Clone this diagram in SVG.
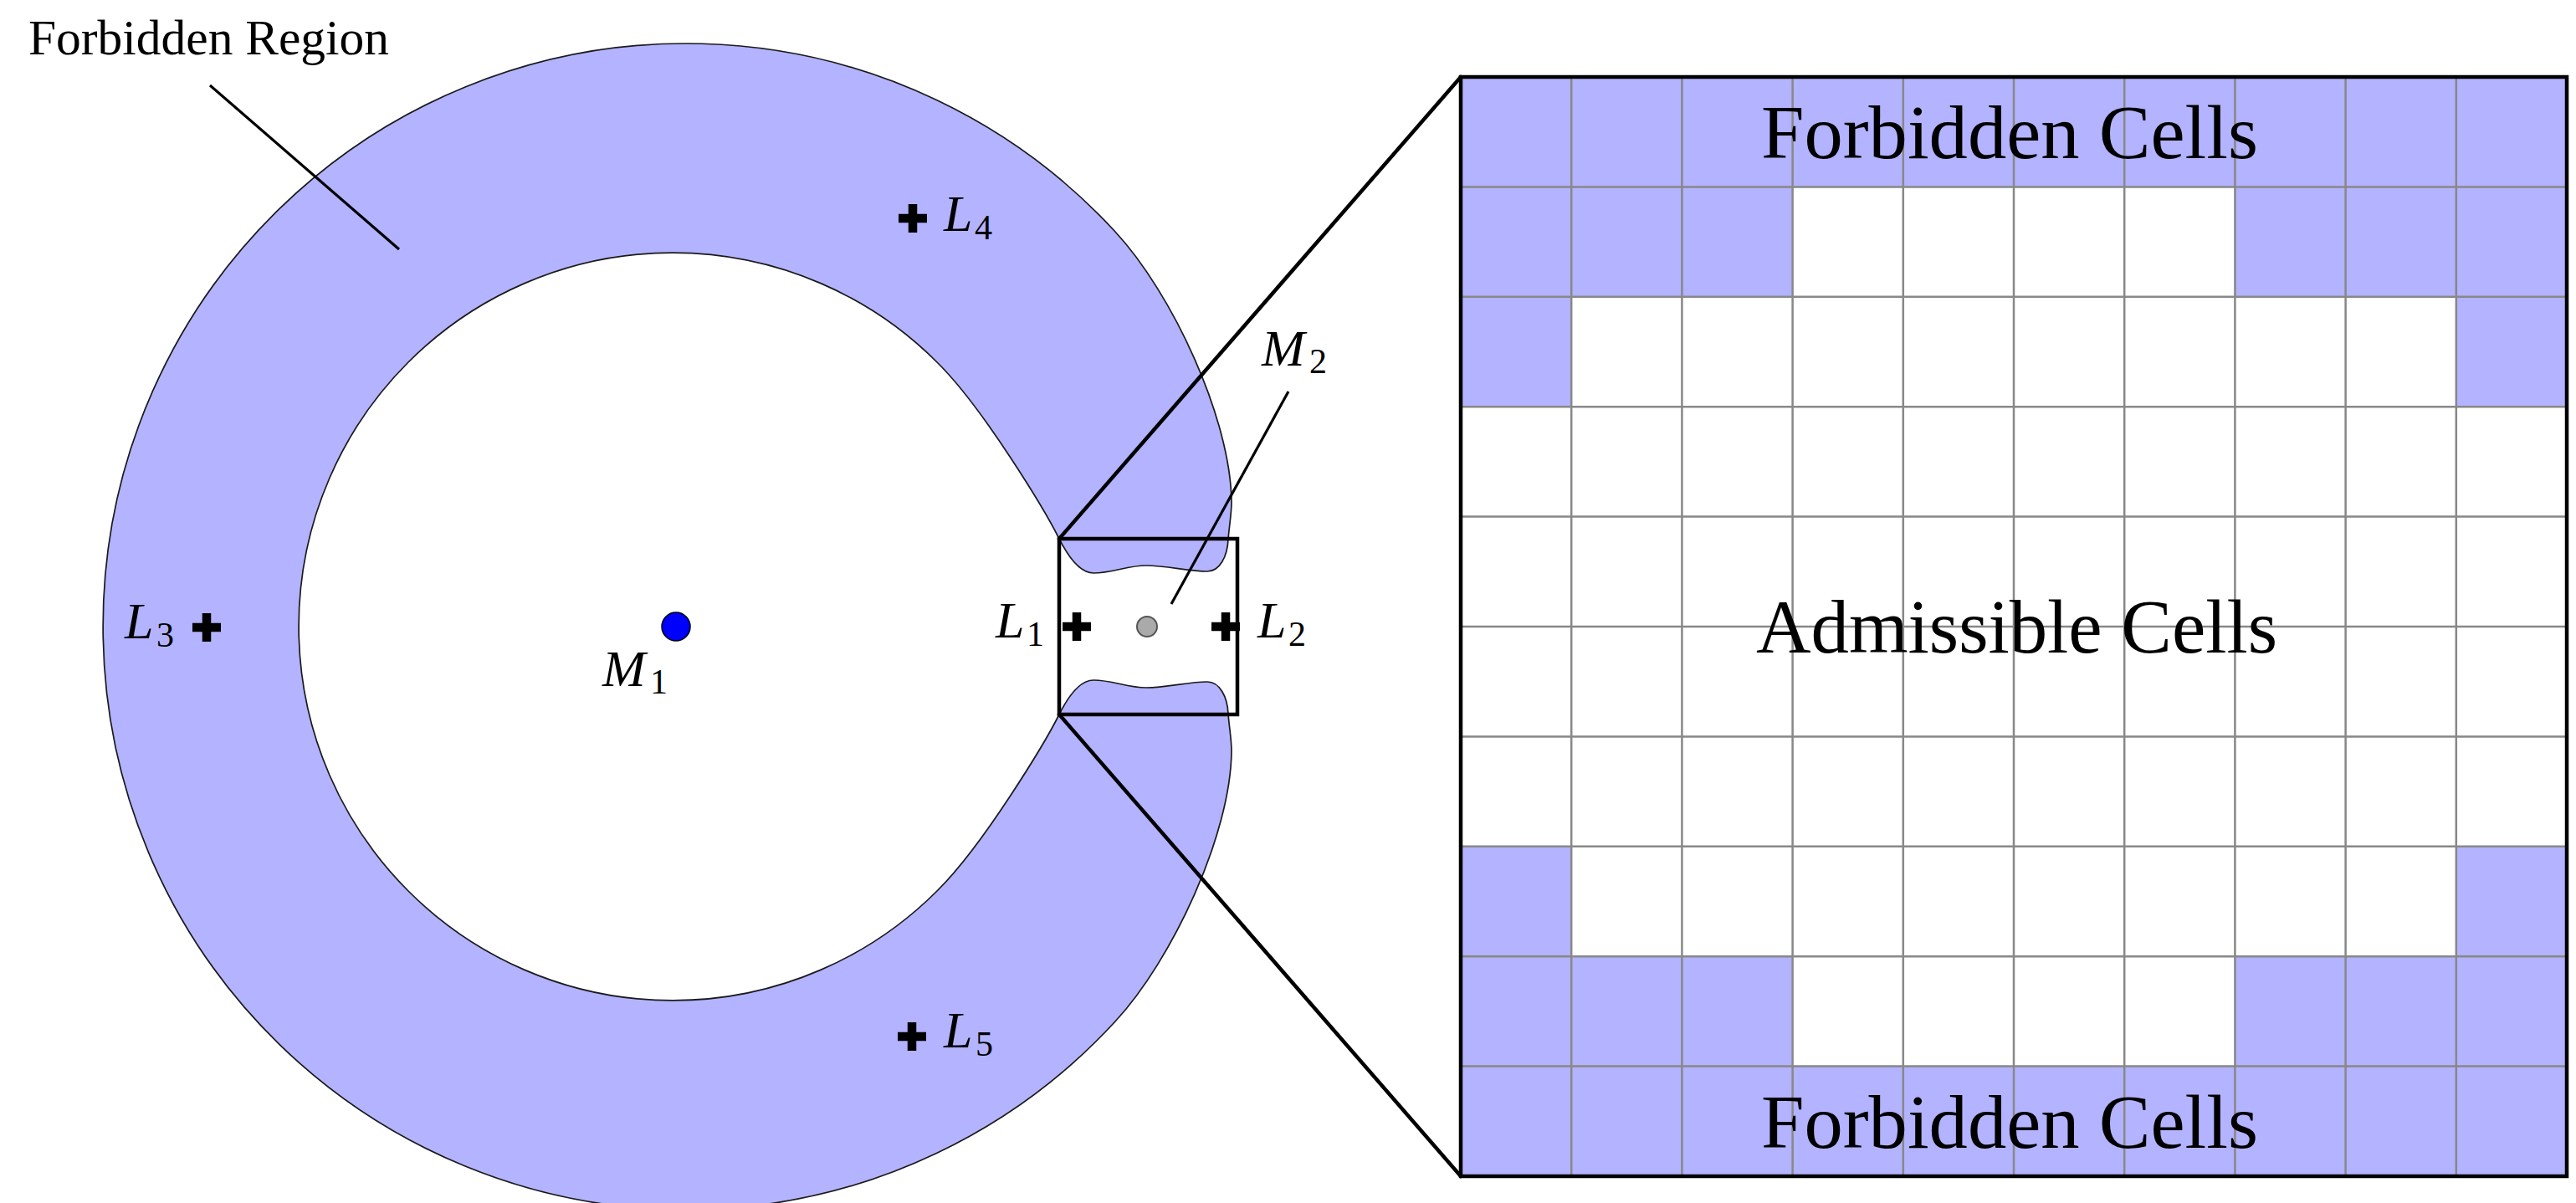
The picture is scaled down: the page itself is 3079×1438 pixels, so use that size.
<svg xmlns="http://www.w3.org/2000/svg" xmlns:xlink="http://www.w3.org/1999/xlink" width="3079" height="1438" viewBox="0 0 3079 1438">
<style>
.region{fill:#b3b3ff;stroke:#1a1a1a;stroke-width:1.7}
.cell{fill:#b3b3ff;stroke:none}
.gridline{fill:none;stroke:#888888;stroke-width:2.5}
.border{fill:none;stroke:#000;stroke-width:4.5}
.conn{fill:none;stroke:#000;stroke-width:4.5;stroke-linecap:round}
.leader{fill:none;stroke:#000;stroke-width:3.2}
.cross{fill:none;stroke:#000;stroke-width:10.5}
.math{font-family:"Liberation Serif","Times New Roman",serif;font-style:italic;font-size:62px;fill:#000}
.sub{font-family:"Liberation Serif","Times New Roman",serif;font-style:normal;font-size:42px;fill:#000}
.lbl{font-family:"Liberation Serif","Times New Roman",serif;fill:#000}
</style>
<defs>
<g id="plus"><path class="cross" d="M-17,0H17M0,-17V17"/></g>
</defs>
<rect width="3079" height="1438" fill="#fff"/>

<g id="forbidden-region">
<path class="region" d="M1266,644 C1276,664 1290,685 1307,685 C1330,685 1347,676 1370,676 C1395,676 1420,683 1443,683 C1458,683 1467,665 1468,645 C1469,630 1472,615 1472,600 C1471,500 1401,350.5 1333,277 A697,697 0 1 0 1333,1221 C1401,1147.5 1471,998 1472,898 C1472,883 1469,868 1468,853 C1467,833 1458,815 1443,815 C1420,815 1395,822 1370,822 C1347,822 1330,813 1307,813 C1290,813 1276,834 1266,854 C1250,886 1175,1011 1120,1065 A447,447 0 1 1 1120,433 C1175,487 1250,612 1266,644 Z"/>
</g>

<g id="grid">
<rect class="cell" x="1746" y="92" width="1322" height="131.4"/>
<rect class="cell" x="1746" y="223.4" width="396.6" height="131.4"/>
<rect class="cell" x="2671.4" y="223.4" width="396.6" height="131.4"/>
<rect class="cell" x="1746" y="354.8" width="132.2" height="131.4"/>
<rect class="cell" x="2935.8" y="354.8" width="132.2" height="131.4"/>
<rect class="cell" x="1746" y="1011.8" width="132.2" height="131.4"/>
<rect class="cell" x="2935.8" y="1011.8" width="132.2" height="131.4"/>
<rect class="cell" x="1746" y="1143.2" width="396.6" height="131.4"/>
<rect class="cell" x="2671.4" y="1143.2" width="396.6" height="131.4"/>
<rect class="cell" x="1746" y="1274.6" width="1322" height="131.4"/>
<path class="gridline" d="M1878.2,92V1406M2010.4,92V1406M2142.6,92V1406M2274.8,92V1406M2407,92V1406M2539.2,92V1406M2671.4,92V1406M2803.6,92V1406M2935.8,92V1406M1746,223.4H3068M1746,354.8H3068M1746,486.2H3068M1746,617.6H3068M1746,749H3068M1746,880.4H3068M1746,1011.8H3068M1746,1143.2H3068M1746,1274.6H3068"/>
<rect class="border" x="1746" y="92" width="1322" height="1314"/>
<text class="lbl" x="2105" y="189" font-size="92" textLength="594" lengthAdjust="spacingAndGlyphs">Forbidden Cells</text>
<text class="lbl" x="2099" y="780" font-size="92" textLength="623" lengthAdjust="spacingAndGlyphs">Admissible Cells</text>
<text class="lbl" x="2105" y="1372" font-size="92" textLength="594" lengthAdjust="spacingAndGlyphs">Forbidden Cells</text>
</g>

<g id="zoom-box">
<rect class="border" x="1266" y="644" width="213" height="210"/>
</g>

<g id="connectors">
<line class="conn" x1="1266" y1="644" x2="1746" y2="92"/>
<line class="conn" x1="1266" y1="854" x2="1746" y2="1406"/>
<line class="leader" x1="251" y1="102" x2="477" y2="298"/>
<line class="leader" x1="1540" y1="468" x2="1400" y2="722"/>
</g>

<g id="M1">
<circle cx="808" cy="749" r="17" fill="#0000ff" stroke="#000" stroke-width="1.5"/>
<text class="math" x="720" y="820">M</text><text class="sub" x="777" y="829">1</text>
</g>

<g id="M2">
<circle cx="1371" cy="749" r="12" fill="#aaaaaa" stroke="#555" stroke-width="2"/>
<text class="math" x="1508" y="437">M</text><text class="sub" x="1565" y="446">2</text>
</g>

<g id="L1">
<use xlink:href="#plus" x="1287" y="749"/>
<text class="math" x="1190" y="762">L</text><text class="sub" x="1227" y="772">1</text>
</g>
<g id="L2">
<use xlink:href="#plus" x="1465" y="749"/>
<text class="math" x="1503" y="762">L</text><text class="sub" x="1540" y="772">2</text>
</g>
<g id="L3">
<use xlink:href="#plus" x="247" y="750"/>
<text class="math" x="149" y="763">L</text><text class="sub" x="187" y="773">3</text>
</g>
<g id="L4">
<use xlink:href="#plus" x="1091" y="261"/>
<text class="math" x="1128" y="276">L</text><text class="sub" x="1165" y="286">4</text>
</g>
<g id="L5">
<use xlink:href="#plus" x="1090" y="1239"/>
<text class="math" x="1128" y="1252">L</text><text class="sub" x="1166" y="1262">5</text>
</g>

<g id="forbidden-region-label">
<text class="lbl" x="34" y="65" font-size="60" textLength="431" lengthAdjust="spacingAndGlyphs">Forbidden Region</text>
</g>
</svg>
